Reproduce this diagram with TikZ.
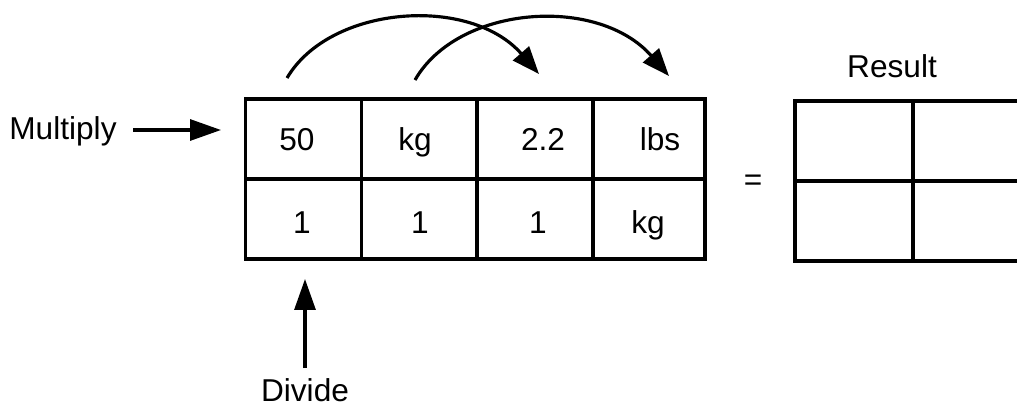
\documentclass[tikz,border=0pt]{standalone}
\usepackage{fontspec}
\setmainfont{Liberation Sans}
\usetikzlibrary{arrows.meta}
\begin{document}
\begin{tikzpicture}[x=0.02cm,y=-0.02cm,
  cell/.style={draw,line width=2pt,inner sep=0pt,minimum width=2.32cm,minimum height=1.6cm},
  rcell/.style={draw,line width=2pt,inner sep=0pt,minimum width=2.36cm,minimum height=1.6cm},
  txt/.style={inner sep=0pt,anchor=base,font=\fontsize{18}{21}\selectfont},
  arr/.style={line width=1.8pt,-{Triangle[length=0.62cm,width=0.42cm]}},
  carr/.style={line width=1.8pt,-{Triangle[length=0.55cm,width=0.42cm]}}]
\useasboundingbox (0,0) rectangle (1017,409);
% main table
\node[cell] (c11) at (303.5,139) {};
\node[cell] (c12) at (419.5,139) {};
\node[cell] (c13) at (535,139) {};
\node[cell,minimum width=2.24cm] (c14) at (649,139) {};
\node[cell] (c21) at (303.5,219) {};
\node[cell] (c22) at (419.5,219) {};
\node[cell] (c23) at (535,219) {};
\node[cell,minimum width=2.24cm] (c24) at (649,219) {};
\node[txt] (t11) at (297,150) {50};
\node[txt] (t12) at (415,150) {kg};
\node[txt] (t13) at (543,150) {2.2};
\node[txt] (t14) at (660,150) {lbs};
\node[txt] (t21) at (302,233) {1};
\node[txt] (t22) at (420,233) {1};
\node[txt] (t23) at (538,233) {1};
\node[txt] (t24) at (648,233) {kg};
% result table
\node[rcell] (r11) at (854,141) {};
\node[rcell] (r12) at (972,141) {};
\node[rcell] (r21) at (854,221) {};
\node[rcell] (r22) at (972,221) {};
\node[txt] (res) at (892,77) {Result};
\node[txt] (eq) at (753,190) {=};
% labels
\node[txt] (mul) at (63,139) {Multiply};
\node[txt] (div) at (305,401) {Divide};
\coordinate (mulend) at (221,130);
\coordinate (divend) at (305,279);
\draw[arr] (133,130) -- (mulend);
\draw[arr] (305,368) -- (divend);
% curved arrows
\coordinate (a1s) at (287,78);
\coordinate (a1e) at (539,74);
\coordinate (a2s) at (415,80);
\coordinate (a2e) at (669,76);
\draw[carr] (a1s) .. controls (330,5) and (470,-5) .. (a1e);
\draw[carr] (a2s) .. controls (458,5) and (598,-5) .. (a2e);
\end{tikzpicture}
\end{document}
